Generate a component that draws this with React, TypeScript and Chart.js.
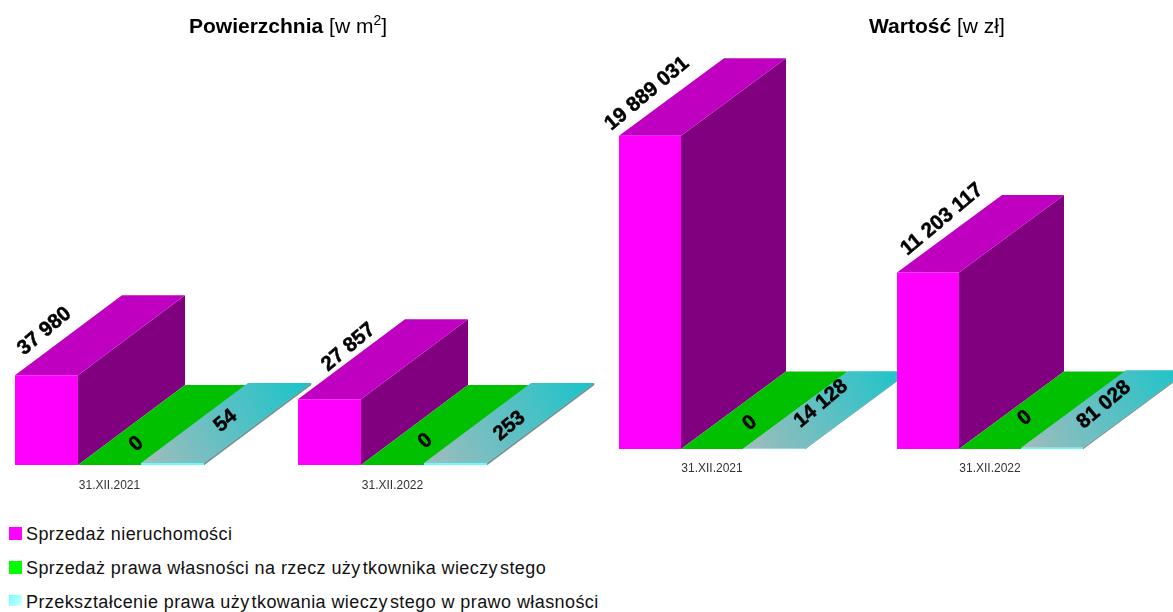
import React, { useEffect, useRef } from "react";
import { Chart, registerables } from "chart.js";

Chart.register(...registerables);

const categories = ["31.XII.2021", "31.XII.2022"];
const seriesNames = [
  "Sprzedaż nieruchomości",
  "Sprzedaż prawa własności na rzecz użytkownika wieczystego",
  "Przekształcenie prawa użytkowania wieczystego w prawo własności",
];
const areaSale = [37980, 27857];
const areaOwnership = [0, 0];
const areaConversion = [54, 253];
const valueSale = [19889031, 11203117];
const valueOwnership = [0, 0];
const valueConversion = [14128, 81028];

const FONT = '"Liberation Sans", Arial, sans-serif';
const frontColors = ["#ff00ff", "#00ff00", "#66ffff"];
const topColors = ["#c000c0", "#00c000", ""];
const sideColors = ["#800080", "#00c000", "#6f9090"];
const LABEL_ANGLE = (40 * Math.PI) / 180;

const fmt = (v: number) => String(v).replace(/\B(?=(\d{3})+(?!\d))/g, " ");

function bars3d(depthX: number, depthY: number, labelShift: number[][][]) {
  return {
    id: "bars3d",
    beforeDatasetsDraw(chart: any) {
      const ctx = chart.ctx;
      const n = chart.data.labels.length;
      for (let c = 0; c < n; c++) {
        chart.data.datasets.forEach((_: any, d: number) => {
          const el = chart.getDatasetMeta(d).data[c];
          const x0 = el.x - el.width / 2;
          const x1 = el.x + el.width / 2;
          const yt = el.y;
          const yb = el.base;
          // side face
          ctx.fillStyle = sideColors[d];
          ctx.beginPath();
          ctx.moveTo(x1, yb);
          ctx.lineTo(x1 + depthX, yb - depthY);
          ctx.lineTo(x1 + depthX, yt - depthY);
          ctx.lineTo(x1, yt);
          ctx.closePath();
          ctx.fill();
          if (d === 2) {
            ctx.strokeStyle = sideColors[d];
            ctx.lineWidth = 0.5;
            ctx.stroke();
          }
          // top face
          if (d === 2) {
            const g = ctx.createLinearGradient(x0, yt, x1 + depthX, yt - depthY);
            g.addColorStop(0, "#a2bcbc");
            g.addColorStop(1, "#18c4ca");
            ctx.fillStyle = g;
          } else {
            ctx.fillStyle = topColors[d];
          }
          ctx.beginPath();
          ctx.moveTo(x0, yt);
          ctx.lineTo(x0 + depthX, yt - depthY);
          ctx.lineTo(x1 + depthX, yt - depthY);
          ctx.lineTo(x1, yt);
          ctx.closePath();
          ctx.fill();
        });
      }
    },
    afterDatasetsDraw(chart: any) {
      const ctx = chart.ctx;
      chart.data.datasets.forEach((ds: any, d: number) => {
        chart.getDatasetMeta(d).data.forEach((el: any, c: number) => {
          const [sx, sy] = labelShift[d][c];
          ctx.save();
          ctx.translate(el.x + sx, el.y + sy);
          ctx.rotate(-LABEL_ANGLE);
          ctx.font = `bold 20.5px ${FONT}`;
          ctx.fillStyle = "#000";
          ctx.strokeStyle = "#000";
          ctx.lineWidth = 0.5;
          ctx.textAlign = "center";
          ctx.textBaseline = "middle";
          ctx.fillText(fmt(ds.data[c]), 0, 0);
          ctx.strokeText(fmt(ds.data[c]), 0, 0);
          ctx.restore();
        });
      });
    },
  };
}

function Bar3D(props: {
  left: number;
  width: number;
  height: number;
  padRight: number;
  yMax: number;
  series: number[][];
  depthX: number;
  depthY: number;
  catPct: number;
  minBar: number;
  tickPad: number;
  labelShift: number[][][];
}) {
  const ref = useRef<HTMLCanvasElement>(null);
  useEffect(() => {
    const chart = new Chart(ref.current as HTMLCanvasElement, {
      type: "bar",
      data: {
        labels: categories,
        datasets: props.series.map((data, i) => ({
          label: seriesNames[i],
          data,
          backgroundColor: frontColors[i],
          borderWidth: 0,
          minBarLength: i === 2 ? props.minBar : 0,
          categoryPercentage: props.catPct,
          barPercentage: 1,
        })),
      },
      options: {
        responsive: false,
        animation: false,
        layout: { padding: { top: 30, right: props.padRight, left: 0, bottom: 0 } },
        plugins: { legend: { display: false }, tooltip: { enabled: false }, title: { display: false } },
        scales: {
          y: { display: false, min: 0, max: props.yMax },
          x: {
            grid: { display: false, drawTicks: false },
            border: { display: false },
            afterFit: (s: any) => {
              s.height = 25;
            },
            ticks: {
              padding: props.tickPad,
              maxRotation: 0,
              color: "#333333",
              font: { family: FONT, size: 12 },
            },
          },
        },
      },
      plugins: [bars3d(props.depthX, props.depthY, props.labelShift)],
    } as any);
    return () => chart.destroy();
  }, []);
  return (
    <canvas
      ref={ref}
      width={props.width}
      height={props.height}
      style={{ position: "absolute", left: props.left, top: 0, width: props.width, height: props.height }}
    />
  );
}

const legendTops = [527, 561, 595];
const swatchBg = [
  "#ff00ff",
  "#00ff00",
  "linear-gradient(135deg,#66ffff 0%,#aaffff 55%,#e0ffff 100%)",
];
const swatchH = [13, 13, 11];
const swatchW = [13, 13, 13];

function spaced(text: string) {
  return text.split(/(y)/).map((p, i) =>
    p === "y" ? (
      <span key={i} style={{ marginRight: 2 }}>
        y
      </span>
    ) : (
      <span key={i}>{p}</span>
    )
  );
}

function Title(props: { left: number; bold: string; unit: string; sup?: string }) {
  return (
    <div
      style={{
        position: "absolute",
        left: props.left,
        top: 15,
        fontFamily: FONT,
        fontSize: 21,
        lineHeight: "22px",
        whiteSpace: "nowrap",
        color: "#000",
      }}
    >
      <b>{props.bold}</b> {props.unit}
      {props.sup ? <sup style={{ fontSize: 14, lineHeight: 0 }}>{props.sup}</sup> : null}]
    </div>
  );
}

export default function App() {
  return (
    <div style={{ position: "absolute", left: 0, top: 0, width: 1173, height: 612, overflow: "hidden", background: "#fff" }}>
      <Bar3D
        left={-32}
        width={640}
        height={490}
        padRight={74}
        yMax={184000}
        series={[areaSale, areaOwnership, areaConversion]}
        depthX={107}
        depthY={80}
        catPct={0.668}
        minBar={2}
        tickPad={13}
        labelShift={[
          [[-2, -44], [19, -52]],
          [[27, -21], [33, -24]],
          [[53, -42], [54, -37]],
        ]}
      />
      <Bar3D
        left={573}
        width={600}
        height={474}
        padRight={44}
        yMax={26600000}
        series={[valueSale, valueOwnership, valueConversion]}
        depthX={105}
        depthY={77.5}
        catPct={0.669}
        minBar={0}
        tickPad={12}
        labelShift={[
          [[-3, -42], [14, -53]],
          [[38, -26], [35, -31]],
          [[47, -45], [52, -43]],
        ]}
      />
      <Title left={189} bold="Powierzchnia" unit="[w m" sup="2" />
      <Title left={869} bold="Wartość" unit="[w zł" />
      {seriesNames.map((name, i) => (
        <div key={name}>
          <div
            style={{
              position: "absolute",
              left: 9,
              top: legendTops[i],
              width: swatchW[i],
              height: swatchH[i],
              background: swatchBg[i],
            }}
          />
          <div
            style={{
              position: "absolute",
              left: 26,
              top: legendTops[i] - 3,
              fontFamily: FONT,
              fontSize: 18,
              letterSpacing: 0.42,
              lineHeight: "20px",
              whiteSpace: "nowrap",
              color: "#111",
            }}
          >
            {spaced(name)}
          </div>
        </div>
      ))}
    </div>
  );
}
